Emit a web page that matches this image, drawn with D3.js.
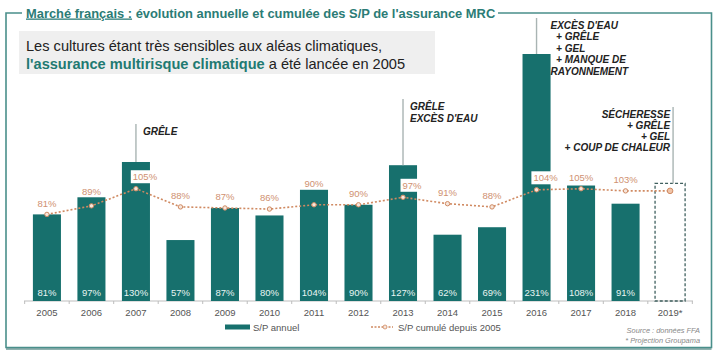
<!DOCTYPE html>
<html><head><meta charset="utf-8">
<script src="https://cdn.jsdelivr.net/npm/d3@7"></script>
<style>html,body{margin:0;padding:0;background:#fff;}svg{display:block;font-family:"Liberation Sans",Arial,sans-serif;}</style>
</head><body>
<svg id="chart" width="720" height="353"></svg>
<script>
// ---- data ----
const years = ["2005","2006","2007","2008","2009","2010","2011","2012","2013","2014","2015","2016","2017","2018","2019*"];
const spAnnuel = [81,97,130,57,87,80,104,90,127,62,69,231,108,91,null];
const spProjection2019 = 110; // dashed projection box height (estimated)
const spCumule = [81,89,105,88,87,86,90,90,97,91,88,104,105,103,103];
const cumLabels = ["81%","89%","105%","88%","87%","86%","90%","90%","97%","91%","88%","104%","105%","103%",null];
const annotYears = ["2007","2013","2016","2019*"];
const annotTexts = [
  ["GRÊLE"],
  ["GRÊLE","EXCÈS D'EAU"],
  ["EXCÈS D'EAU","  + GRÊLE","  + GEL","  + MANQUE DE","RAYONNEMENT"],
  ["SÉCHERESSE","+ GRÊLE","+ GEL","+ COUP DE CHALEUR"]
];
const titleUnder = "Marché français :";
const titleRest = " évolution annuelle et cumulée des S/P de l'assurance MRC";
const subLine1 = "Les cultures étant très sensibles aux aléas climatiques,";
const subLine2Bold = "l'assurance multirisque climatique";
const subLine2Rest = " a été lancée en 2005";
const legendBar = "S/P annuel";
const legendLine = "S/P cumulé depuis 2005";
const sourceLines = ["Source : données FFA","* Projection Groupama"];

// ---- styles ----
const TEAL = "#17706d", FRAME = "#4a8f8b", ORANGE = "#d08a62", ORANGE_TXT = "#cf9171";

const svg = d3.select("#chart");

// frame
svg.append("path")
  .attr("d","M22,13 H6 V347.5 H711.5 V13 H498")
  .attr("fill","none").attr("stroke",FRAME).attr("stroke-width",1.6);
svg.append("line").attr("x1",6).attr("x2",711.5).attr("y1",349).attr("y2",349)
  .attr("stroke","#2f6f6b").attr("stroke-width",1.4).attr("opacity",0.7);

// title
const title = svg.append("text").attr("x",26).attr("y",17.5)
  .attr("font-size",12.9).attr("font-weight","bold").attr("fill","#2b7c76");
title.append("tspan").attr("text-decoration","underline").text(titleUnder);
title.append("tspan").text(titleRest);

// subtitle box
svg.append("rect").attr("x",19).attr("y",31).attr("width",416).attr("height",43).attr("fill","#efefef");
svg.append("text").attr("x",26).attr("y",51).attr("font-size",14.6).attr("fill","#222").text(subLine1);
const s2 = svg.append("text").attr("x",26).attr("y",69).attr("font-size",14.6).attr("fill","#222");
s2.append("tspan").attr("font-weight","bold").attr("fill","#1f7a72").text(subLine2Bold);
s2.append("tspan").text(subLine2Rest);

// scales
const x = d3.scaleBand().domain(years).range([24,693]).paddingInner(0.37).paddingOuter(0.2);
const y = d3.scaleLinear().domain([0,231]).range([301,54]);
const cx = d => x(d) + x.bandwidth()/2;

// axis
const axis = svg.append("g").attr("transform","translate(0,301)");
axis.append("line").attr("x1",24).attr("x2",693).attr("stroke","#bdbdbd").attr("stroke-width",1);
const step = x.step();
const tickXs = d3.range(years.length+1).map(i => x(years[0]) - (step - x.bandwidth())/2 + i*step);
axis.selectAll("line.tk").data(tickXs).join("line").attr("class","tk")
  .attr("x1",d=>d).attr("x2",d=>d).attr("y1",0).attr("y2",3).attr("stroke","#bdbdbd");
axis.selectAll("text.yr").data(years).join("text").attr("class","yr")
  .attr("x",d=>cx(d)).attr("y",15).attr("text-anchor","middle")
  .attr("font-size",9.5).attr("fill","#555").text(d=>d);

// bars
const barData = years.map((yr,i)=>({yr, v:spAnnuel[i]})).filter(d=>d.v!=null);
svg.selectAll("rect.bar").data(barData).join("rect").attr("class","bar")
  .attr("x",d=>x(d.yr)).attr("width",x.bandwidth())
  .attr("y",d=>y(d.v)).attr("height",d=>y(0)-y(d.v)).attr("fill",TEAL);
svg.selectAll("text.bv").data(barData).join("text").attr("class","bv")
  .attr("x",d=>cx(d.yr)).attr("y",295.5).attr("text-anchor","middle")
  .attr("font-size",9.5).attr("fill","#e8f4f2").text(d=>d.v+"%");

// projection box 2019
const lastYr = years[years.length-1];
svg.append("rect").attr("x",x(lastYr)-1).attr("width",x.bandwidth()+2)
  .attr("y",y(spProjection2019)).attr("height",y(0)-y(spProjection2019))
  .attr("fill","none").attr("stroke","#3f5f5e").attr("stroke-width",1.3).attr("stroke-dasharray","3,2");

// cumulative line
const cumData = years.map((yr,i)=>({yr, v:spCumule[i], lab:cumLabels[i], bar:spAnnuel[i]}));
svg.append("path").datum(cumData)
  .attr("d", d3.line().x(d=>cx(d.yr)).y(d=>y(d.v)))
  .attr("fill","none").attr("stroke",ORANGE).attr("stroke-width",1.6).attr("stroke-dasharray","2,2");
svg.selectAll("circle.pt").data(cumData).join("circle").attr("class","pt")
  .attr("cx",d=>cx(d.yr)).attr("cy",d=>y(d.v)).attr("r",(d,i)=>i===cumData.length-1?2.8:2.2)
  .attr("fill",(d,i)=>i===cumData.length-1?"#f0c4a8":"#f6e6dc").attr("stroke",ORANGE).attr("stroke-width",1);

// cumulative labels
const labG = svg.append("g");
cumData.filter(d=>d.lab).forEach(d=>{
  const py = y(d.v);
  const barTop = d.bar!=null ? y(d.bar) : 999;
  let lx = cx(d.yr), ly, boxed=false;
  if (barTop < py - 20) { boxed = true; ly = py - 12; lx += 9; }
  else { ly = Math.min(py - 11, barTop - 6); }
  const t = labG.append("text").attr("x",lx).attr("y",ly+3.4).attr("text-anchor","middle")
    .attr("font-size",9.5).attr("fill",ORANGE_TXT).text(d.lab);
  if (boxed) {
    const bb = t.node().getBBox();
    labG.insert("rect","text:last-child").attr("x",bb.x-2).attr("y",ly-6.5).attr("width",bb.width+3).attr("height",13).attr("fill","#fff");
  }
});

// annotations
const annotLayout = {"2007":{top:131, dx:7, anchor:"start", lh:12},
                     "2013":{top:106, dx:7, anchor:"start", lh:12},
                     "2016":{top:25, dx:14, anchor:"start", lh:11.5},
                     "2019*":{top:114, dx:-3, anchor:"end", lh:11}};
annotYears.forEach((yr,i)=>{
  const L = annotLayout[yr];
  const isProj = yr===lastYr;
  const lineX = cx(yr) + (isProj?3:0);
  const bottom = isProj ? y(spProjection2019) : y(spAnnuel[years.indexOf(yr)]);
  svg.append("line").attr("x1",lineX).attr("x2",lineX).attr("y1",L.top-7).attr("y2",bottom)
    .attr("stroke","#a9b4b3").attr("stroke-width",1.4);
  const t = svg.append("text").attr("font-size",10).attr("font-weight","bold").attr("font-style","italic")
    .attr("fill","#222").attr("text-anchor",L.anchor).attr("xml:space","preserve");
  annotTexts[i].forEach((ln,j)=>{
    t.append("tspan").attr("x",lineX+L.dx).attr("y",L.top+3.5+j*L.lh).text(ln);
  });
});

// legend
svg.append("rect").attr("x",225).attr("y",324.5).attr("width",25).attr("height",5).attr("fill",TEAL);
svg.append("text").attr("x",253).attr("y",330.5).attr("font-size",9.5).attr("fill","#555").text(legendBar);
svg.append("line").attr("x1",371).attr("x2",393).attr("y1",327).attr("y2",327)
  .attr("stroke",ORANGE).attr("stroke-width",1.5).attr("stroke-dasharray","2,1.5");
svg.append("circle").attr("cx",385).attr("cy",327).attr("r",2).attr("fill","#f6e6dc").attr("stroke",ORANGE).attr("stroke-width",0.8);
svg.append("text").attr("x",398).attr("y",330.5).attr("font-size",9.5).attr("fill","#555").text(legendLine);

// source
svg.selectAll("text.src").data(sourceLines).join("text").attr("class","src")
  .attr("x",700).attr("y",(d,i)=>333+i*9.5).attr("text-anchor","end")
  .attr("font-size",7.4).attr("font-style","italic").attr("fill","#888").text(d=>d);
</script>
</body></html>
